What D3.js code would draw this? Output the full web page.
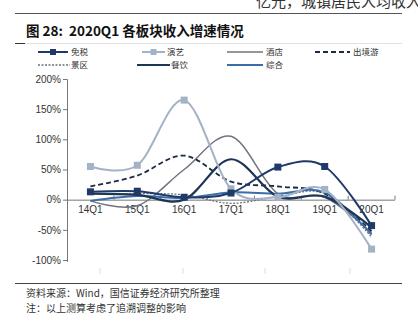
<!DOCTYPE html>
<html><head><meta charset="utf-8">
<script src="https://cdn.jsdelivr.net/npm/d3@7"></script>
<style>
html,body{margin:0;padding:0;background:#fff;}
svg{display:block;}
</style></head>
<body>
<svg id="c" width="418" height="324"></svg>
<script>
const categories = ["14Q1","15Q1","16Q1","17Q1","18Q1","19Q1","20Q1"];
const yTicks = [-100,-50,0,50,100,150,200];
const dutyFree   = [13, 14, 4, 11, 54, 55, -43];   // 免税
const performing = [55, 57, 165, 18, 4, 17, -82];  // 演艺
const hotel      = [-2, -10, 50, 105, 10, 4, -55]; // 酒店
const outbound   = [22, 40, 73, 30, 22, 10, -52];  // 出境游
const scenic     = [10, 10, 8, -6, 5, 10, -62];    // 景区
const catering   = [10, 8, 0, 67, 5, 5, -46];      // 餐饮
const composite  = [-2, 6, 3, 12, 10, 12, -58];    // 综合

const series = [
  {name:"免税", values:dutyFree, color:"#1f3a68", width:2, dash:null, marker:true},
  {name:"演艺", values:performing, color:"#a3b2c6", width:2, dash:null, marker:true},
  {name:"酒店", values:hotel, color:"#6f747d", width:1.5, dash:null, marker:false},
  {name:"出境游", values:outbound, color:"#1c2a44", width:1.8, dash:"5,3", marker:false},
  {name:"景区", values:scenic, color:"#6b7280", width:1.3, dash:"2,1.5", marker:false},
  {name:"餐饮", values:catering, color:"#1d3557", width:2.2, dash:null, marker:false},
  {name:"综合", values:composite, color:"#3a6ea8", width:2, dash:null, marker:false}
];

const svg = d3.select("#c");
const FONT = "'Noto Sans CJK SC','Noto Sans',sans-serif";

// header remnant (cut off at top, as in the source page)
svg.append("text").attr("x",256).attr("y",7).attr("font-family",FONT)
  .attr("font-size",15).attr("fill","#333").text("亿元，城镇居民人均收入");
svg.append("line").attr("x1",15).attr("x2",402).attr("y1",13.5).attr("y2",13.5)
  .attr("stroke","#555").attr("stroke-width",1);

// title
svg.append("text").attr("x",26).attr("y",36).attr("font-family",FONT)
  .attr("font-size",13.5).attr("font-weight","bold").attr("fill","#111")
  .attr("xml:space","preserve")
  .text("图 28:  2020Q1 各板块收入增速情况");
svg.append("line").attr("x1",15).attr("x2",402).attr("y1",43.5).attr("y2",43.5)
  .attr("stroke","#ccc").attr("stroke-width",0.6);
svg.append("line").attr("x1",15).attr("x2",25).attr("y1",43.5).attr("y2",43.5)
  .attr("stroke","#333").attr("stroke-width",1);

// scales
const x = d3.scaleBand().domain(categories).range([67,395]);
const y = d3.scaleLinear().domain([-100,200]).range([260,79]);

// y axis
const yAxis = d3.axisLeft(y).tickValues(yTicks).tickSize(4).tickFormat(d=>d+"%");
const gy = svg.append("g").attr("transform","translate(67,0)").call(yAxis);
gy.select(".domain").attr("stroke","#777").attr("d","M-4,79.5H0.5V262");
gy.selectAll(".tick line").attr("stroke","#777");
gy.selectAll(".tick text").attr("font-family","Arial,'Liberation Sans',sans-serif")
  .attr("font-size",10).attr("fill","#333").attr("x",-6);

// x axis at 0
const xAxis = d3.axisBottom(x).tickSize(0).tickPadding(6);
const gx = svg.append("g").attr("transform",`translate(0,${y(0)})`).call(xAxis);
gx.select(".domain").attr("stroke","#777").attr("d","M67,0.5H395");
gx.selectAll(".tick text").attr("font-family","Arial,'Liberation Sans',sans-serif")
  .attr("font-size",10).attr("fill","#333");
const bounds = categories.map(c=>x(c)+x.bandwidth());
gx.selectAll(".btick").data(bounds).enter().append("line")
  .attr("x1",d=>d).attr("x2",d=>d).attr("y1",0).attr("y2",-4)
  .attr("stroke","#777").attr("stroke-width",1);

// faint artifacts below plot
svg.selectAll(".art").data([100,183,265,350]).enter().append("line")
  .attr("x1",d=>d).attr("x2",d=>d).attr("y1",268).attr("y2",274)
  .attr("stroke","#ddd").attr("stroke-width",1);

// lines
const line = d3.line().x((d,i)=>x(categories[i])+x.bandwidth()/2).y(d=>y(d))
  .curve(d3.curveCardinal.tension(0));
const drawOrder = [2,4,3,6,5,1,0];
drawOrder.forEach(k=>{
  const s = series[k];
  svg.append("path").attr("d",line(s.values)).attr("fill","none")
    .attr("stroke",s.color).attr("stroke-width",s.width)
    .attr("stroke-dasharray",s.dash);
  if(s.marker){
    svg.selectAll(null).data(s.values).enter().append("rect")
      .attr("x",(d,i)=>x(categories[i])+x.bandwidth()/2-3.5)
      .attr("y",d=>y(d)-3.5).attr("width",7).attr("height",7)
      .attr("fill",s.color);
  }
});

// legend
const legendPos = [
  {x1:38,x2:68,tx:71,y:52},
  {x1:142,x2:165,tx:167,y:52},
  {x1:227,x2:263,tx:266,y:52},
  {x1:315,x2:350,tx:353,y:52},
  {x1:38,x2:70,tx:71,y:65},
  {x1:137,x2:170,tx:171,y:65},
  {x1:227,x2:263,tx:266,y:65}
];
series.forEach((s,i)=>{
  const p = legendPos[i];
  const g = svg.append("g");
  g.append("line").attr("x1",p.x1).attr("x2",p.x2).attr("y1",p.y).attr("y2",p.y)
    .attr("stroke",s.color).attr("stroke-width",s.width).attr("stroke-dasharray",s.dash);
  if(s.marker){
    g.append("rect").attr("x",(p.x1+p.x2)/2-3).attr("y",p.y-3).attr("width",6).attr("height",6)
      .attr("fill",s.color);
  }
  g.append("text").attr("x",p.tx).attr("y",p.y+3).attr("font-family",FONT)
    .attr("font-size",8.5).attr("fill","#333").text(s.name);
});

// footer
svg.append("line").attr("x1",15).attr("x2",402).attr("y1",283.5).attr("y2",283.5)
  .attr("stroke","#444").attr("stroke-width",1);
svg.append("text").attr("x",26).attr("y",297).attr("font-family",FONT)
  .attr("font-size",10).attr("fill","#333").text("资料来源：Wind，国信证券经济研究所整理");
svg.append("text").attr("x",26).attr("y",312).attr("font-family",FONT)
  .attr("font-size",10).attr("fill","#333").text("注：以上测算考虑了追溯调整的影响");
</script>
</body></html>
